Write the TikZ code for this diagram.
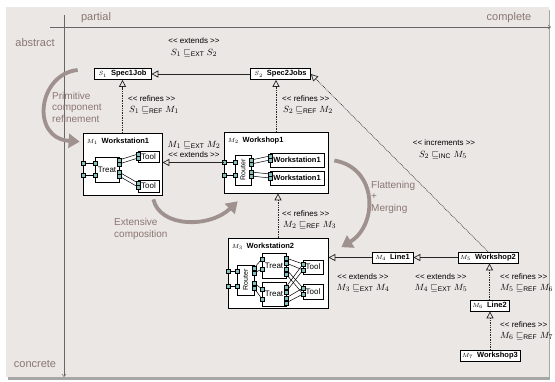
\documentclass[tikz,border=0pt]{standalone}
\usepackage{amsmath, amssymb}
\usepackage[no-math]{fontspec}
\setmainfont{Liberation Sans}
\usepackage{tikz}
\usetikzlibrary{arrows.meta, positioning, calc, backgrounds}

\definecolor{panel}{HTML}{EBE7E5}
\definecolor{annot}{HTML}{8A7672}
\definecolor{flow}{HTML}{9E918E}
\definecolor{portc}{HTML}{86C0BE}

\newcommand{\ml}[1]{{\fontsize{6}{6}\selectfont$#1$}}
\newcommand{\rel}[3]{$#1\sqsubseteq_{\text{#2}}#3$}

\begin{document}
\begin{tikzpicture}[
    x=1pt, y=-1pt,
    % Caja simple de un elemento (Spec1Job, Line1, ...)
    elembox/.style={
        draw, 
        fill=white, 
        line width=0.7pt, 
        minimum height=11pt, 
        inner sep=1pt, 
        font=\fontsize{7.5}{8}\selectfont\bfseries
    },
    % Caja exterior de los modelos compuestos
    outerbox/.style={
        draw, 
        fill=white, 
        line width=0.7pt, 
        inner sep=0pt
    },
    % Titulo dentro de la caja exterior
    titlebox/.style={
        anchor=north west, 
        inner sep=0pt, 
        font=\fontsize{7.5}{8}\selectfont\bfseries
    },
    % Cajas internas (Treat, Tool, Router)
    innerbox/.style={
        draw, 
        fill=white, 
        line width=0.6pt, 
        inner sep=0pt, 
        font=\fontsize{8}{9}\selectfont
    },
    % Puertos
    port/.style={
        draw, 
        fill=portc, 
        line width=0.4pt, 
        minimum size=3.6pt, 
        inner sep=0pt
    },
    wire/.style={line width=0.5pt},
    % Relaciones
    extends/.style={
        draw=black!85, 
        line width=0.7pt, 
        -{Triangle[open, length=7pt, width=7pt]}
    },
    refines/.style={extends, densely dotted},
    stereo/.style={font=\fontsize{8}{9}\selectfont, inner sep=0pt},
    relform/.style={font=\fontsize{9.5}{11}\selectfont, inner sep=0pt},
    % Textos y flechas grises
    note/.style={text=annot, font=\fontsize{10}{11.5}\selectfont, align=left, inner sep=0pt},
    axislabel/.style={text=annot, font=\fontsize{11}{12}\selectfont, inner sep=0pt},
    axisline/.style={draw=black!60, line width=0.5pt, -{Straight Barb[length=2.5pt, width=4pt]}},
    flowarrow/.style={draw=flow, line width=3.8pt, -{Triangle[length=11pt, width=14pt]}}
]

    % ==========================================
    % FONDO Y EJES
    % ==========================================
    \useasboundingbox (0,0) rectangle (555,381);
    \fill[black!35] (8,10) rectangle (550,380);
    \fill[panel] (6,7) rectangle (549,377);

    \coordinate (hstart) at (50,27);
    \coordinate (hend) at (551,27);
    \coordinate (vstart) at (64,15);
    \coordinate (vend) at (64,377);
    \draw[axisline] (hstart) -- (hend);
    \draw[axisline] (vstart) -- (vend);

    \node[axislabel] (lpartial) at (96,18) {partial};
    \node[axislabel] (lcomplete) at (509,18) {complete};
    \node[axislabel] (labstract) at (35,43) {abstract};
    \node[axislabel] (lconcrete) at (35,364) {concrete};


    % ==========================================
    % ESPECIFICACIONES S1, S2
    % ==========================================
    \node[elembox, minimum width=57pt] (spec1) at (122.5,74) {\ml{S_1}\hspace{4pt}Spec1Job};
    \node[elembox, minimum width=60pt] (spec2) at (280.5,74) {\ml{S_2}\hspace{4pt}Spec2Jobs};

    \draw[extends] (spec2) -- (spec1);
    \node[stereo] (ext12) at (194,41) {<{}< extends >{}>};
    \node[relform] (ext12f) at (194,53) {\rel{S_1}{EXT}{S_2}};


    % ==========================================
    % M1: WORKSTATION1
    % ==========================================
    \node[outerbox, minimum width=79pt, minimum height=62pt] (ws1) at (122.5,164) {};
    \node[titlebox] (ws1title) at ($(ws1.north west)+(4,5)$) {\ml{M_1}\hspace{4pt}Workstation1};

    \node[innerbox, minimum width=24pt, minimum height=25pt] (ws1treat) at (107,169.5) {Treat};
    \node[innerbox, minimum width=21pt, minimum height=11pt] (ws1toola) at (148.5,156.5) {Tool};
    \node[innerbox, minimum width=21pt, minimum height=12pt] (ws1toolb) at (148.5,186) {Tool};

    % Puertos y cables
    \foreach \y [count=\i] in {163,175} {
        \node[port] (ws1in\i) at (83,\y) {};
        \node[port] (ws1tin\i) at (95,\y) {};
        \draw[wire] (ws1in\i) -- (ws1tin\i);
    }
    \foreach \y [count=\i] in {160,164,172,176} \node[port] (ws1tout\i) at (119,\y) {};
    \foreach \y [count=\i] in {154,158} \node[port] (ws1ta\i) at (138,\y) {};
    \foreach \y [count=\i] in {183,187} \node[port] (ws1tb\i) at (138,\y) {};
    \draw[wire] (ws1tout1) -- (ws1ta1) (ws1tout2) -- (ws1ta2)
                (ws1tout3) -- (ws1tb1) (ws1tout4) -- (ws1tb2);

    \draw[refines] (ws1.north) -- (ws1.north |- spec1.south);
    \node[stereo, anchor=west] (ref11) at (128,99) {<{}< refines >{}>};
    \node[relform, anchor=west] (ref11f) at (129,110) {\rel{S_1}{REF}{M_1}};


    % ==========================================
    % M2: WORKSHOP1
    % ==========================================
    \node[outerbox, minimum width=104pt, minimum height=61pt] (shop1) at (276,162.5) {};
    \node[titlebox] (shop1title) at ($(shop1.north west)+(4,5)$) {\ml{M_2}\hspace{4pt}Workshop1};

    \node[innerbox, minimum width=30pt, minimum height=16pt, rotate=90, font=\fontsize{7}{8}\selectfont] (shop1router) at (243,170) {Router};
    \node[innerbox, minimum width=54pt, minimum height=14pt, font=\fontsize{7.5}{8}\selectfont\bfseries] (shop1wsa) at (297,160) {Workstation1};
    \node[innerbox, minimum width=54pt, minimum height=14pt, font=\fontsize{7.5}{8}\selectfont\bfseries] (shop1wsb) at (297,178) {Workstation1};

    \foreach \y [count=\i] in {162,175} {
        \node[port] (shop1in\i) at (224,\y) {};
        \node[port] (shop1rin\i) at (235,\y) {};
        \draw[wire] (shop1in\i) -- (shop1rin\i);
    }
    \foreach \y [count=\i] in {160,164,172,176} \node[port] (shop1rout\i) at (251,\y) {};
    \foreach \y [count=\i] in {156,160} \node[port] (shop1wa\i) at (270,\y) {};
    \foreach \y [count=\i] in {174,178} \node[port] (shop1wb\i) at (270,\y) {};
    \draw[wire] (shop1rout1) -- (shop1wa1) (shop1rout2) -- (shop1wa2)
                (shop1rout3) -- (shop1wb1) (shop1rout4) -- (shop1wb2);

    \draw[extends] (shop1.west) -- (shop1.west -| ws1.east);
    \node[relform] (ext12mf) at (194,145) {\rel{M_1}{EXT}{M_2}};
    \node[stereo] (ext12m) at (194,155) {<{}< extends >{}>};

    \draw[refines] (shop1.north) -- (shop1.north |- spec2.south);
    \node[stereo, anchor=west] (ref22) at (282,99) {<{}< refines >{}>};
    \node[relform, anchor=west] (ref22f) at (283,110) {\rel{S_2}{REF}{M_2}};


    % ==========================================
    % M3: WORKSTATION2
    % ==========================================
    \node[outerbox, minimum width=100pt, minimum height=70pt] (ws2) at (278,273.5) {};
    \node[titlebox] (ws2title) at ($(ws2.north west)+(4,5)$) {\ml{M_3}\hspace{4pt}Workstation2};

    \node[innerbox, minimum width=30pt, minimum height=17pt, rotate=90, font=\fontsize{7}{8}\selectfont] (ws2router) at (245.5,280) {Router};
    \node[innerbox, minimum width=24pt, minimum height=25pt] (ws2treata) at (274,265.5) {Treat};
    \node[innerbox, minimum width=24pt, minimum height=24pt] (ws2treatb) at (274,294) {Treat};
    \node[innerbox, minimum width=20pt, minimum height=14pt] (ws2toola) at (313,267) {Tool};
    \node[innerbox, minimum width=20pt, minimum height=15pt] (ws2toolb) at (313,291.5) {Tool};

    \foreach \y [count=\i] in {271,286} {
        \node[port] (ws2in\i) at (228,\y) {};
        \node[port] (ws2rin\i) at (237,\y) {};
        \draw[wire] (ws2in\i) -- (ws2rin\i);
    }
    \foreach \y [count=\i] in {268,273,283,288} \node[port] (ws2rout\i) at (254,\y) {};
    \foreach \y [count=\i] in {259,269} \node[port] (ws2tain\i) at (262,\y) {};
    \foreach \y [count=\i] in {289,299} \node[port] (ws2tbin\i) at (262,\y) {};
    \draw[wire] (ws2rout1) -- (ws2tain1) (ws2rout2) -- (ws2tain2)
                (ws2rout3) -- (ws2tbin1) (ws2rout4) -- (ws2tbin2);
    \foreach \y [count=\i] in {258,263,269,274} \node[port] (ws2taout\i) at (286,\y) {};
    \foreach \y [count=\i] in {287,292,298,303} \node[port] (ws2tbout\i) at (286,\y) {};
    \foreach \y [count=\i] in {264,270} \node[port] (ws2oa\i) at (303,\y) {};
    \foreach \y [count=\i] in {288,294} \node[port] (ws2ob\i) at (303,\y) {};
    \foreach \t in {ws2taout, ws2tbout} {
        \draw[wire] (\t1) -- (ws2oa1) (\t2) -- (ws2oa2)
                    (\t3) -- (ws2ob1) (\t4) -- (ws2ob2);
    }

    \draw[refines] (ws2.north) -- (ws2.north |- shop1.south);
    \node[stereo, anchor=west] (ref23) at (282,214) {<{}< refines >{}>};
    \node[relform, anchor=west] (ref23f) at (283,225) {\rel{M_2}{REF}{M_3}};


    % ==========================================
    % M4 ... M7
    % ==========================================
    \node[elembox, minimum width=41pt] (line1) at (392.5,257.5) {\ml{M_4}\hspace{4pt}Line1};
    \node[elembox, minimum width=60pt] (shop2) at (488,257.5) {\ml{M_5}\hspace{4pt}Workshop2};
    \node[elembox, minimum width=39pt] (line2) at (489.5,305.5) {\ml{M_6}\hspace{4pt}Line2};
    \node[elembox, minimum width=60pt] (shop3) at (490,355.5) {\ml{M_7}\hspace{4pt}Workshop3};

    \draw[extends] (line1.west) -- (line1.west -| ws2.east);
    \node[stereo] (ext34) at (363,277) {<{}< extends >{}>};
    \node[relform] (ext34f) at (363,288) {\rel{M_3}{EXT}{M_4}};

    \draw[extends] (shop2) -- (line1);
    \node[stereo] (ext45) at (441,277) {<{}< extends >{}>};
    \node[relform] (ext45f) at (441,288) {\rel{M_4}{EXT}{M_5}};

    \draw[refines] (line2.north) -- (line2.north |- shop2.south);
    \node[stereo, anchor=west] (ref56) at (500,277) {<{}< refines >{}>};
    \node[relform, anchor=west] (ref56f) at (500,288) {\rel{M_5}{REF}{M_6}};

    \draw[refines] (shop3.north) -- (shop3.north |- line2.south);
    \node[stereo, anchor=west] (ref67) at (500,325) {<{}< refines >{}>};
    \node[relform, anchor=west] (ref67f) at (500,336) {\rel{M_6}{REF}{M_7}};

    % Incremento S2 -> M5
    \draw[refines] (shop2.north) -- (spec2.east);
    \node[stereo] (inc25) at (444,143) {<{}< increments >{}>};
    \node[relform] (inc25f) at (443,155) {\rel{S_2}{INC}{M_5}};


    % ==========================================
    % FLECHAS GRISES
    % ==========================================
    \draw[flowarrow] ($(spec1.west)+(-16,-4)$) .. controls (38,74) and (30,138) .. ($(ws1.north west)+(-3,9)$);
    \node[note, anchor=west] (nprim) at (52,107) {Primitive\\component\\refinement};

    \draw[flowarrow] ($(ws1.south east)+(-9,4)$) .. controls (160,228) and (210,228) .. ($(shop1.south west)+(14,8)$);
    \node[note, anchor=west] (next) at (114,229) {Extensive\\composition};

    \draw[flowarrow] ($(shop1.east)+(6,-2)$) .. controls (378,168) and (378,225) .. ($(ws2.north east)+(13,9)$);
    \node[note, anchor=west] (nflat) at (371,197) {Flattening\\+\\Merging};

\end{tikzpicture}
\end{document}
